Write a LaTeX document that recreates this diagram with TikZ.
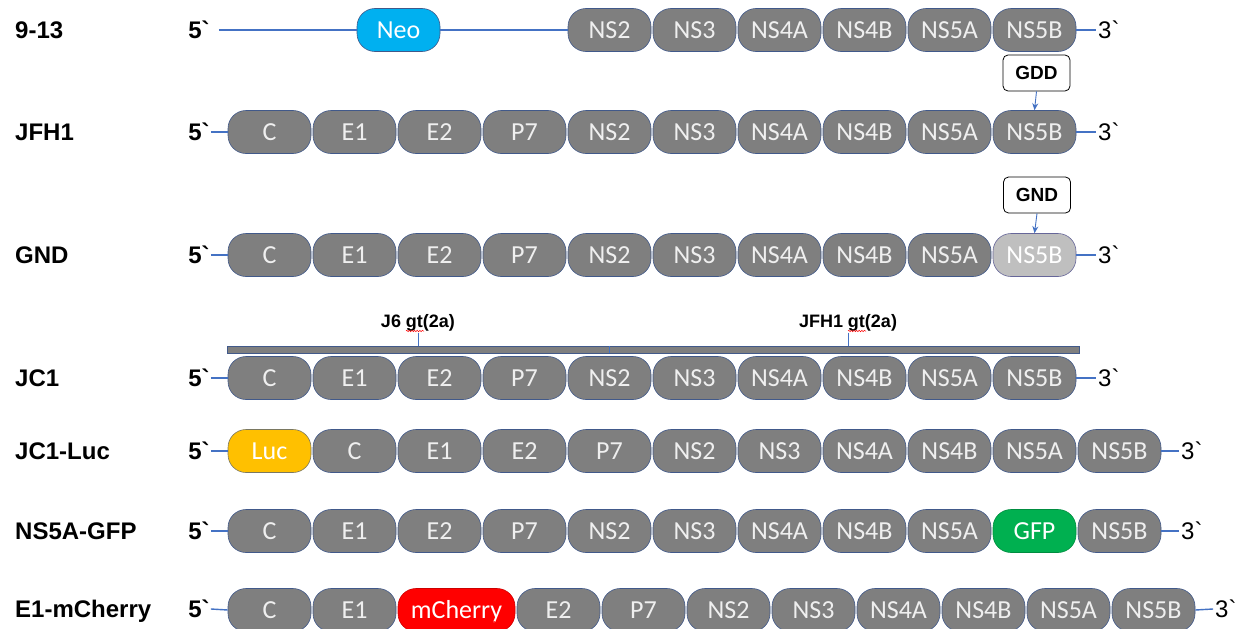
\documentclass[tikz,border=0pt]{standalone}
\usepackage{fontspec}
\usetikzlibrary{arrows.meta,decorations.pathmorphing}
\newfontfamily\boxfont{Carlito}
\newfontfamily\labfont{Liberation Sans}[Ligatures=TeXOff]
\definecolor{boxgray}{HTML}{7F7F7F}
\definecolor{boxline}{HTML}{41598A}
\definecolor{boxtext}{HTML}{EFEFEF}
\definecolor{connblue}{HTML}{4472C4}
\definecolor{neoblue}{HTML}{00B0F0}
\definecolor{lucyellow}{HTML}{FFC000}
\definecolor{gfpgreen}{HTML}{00B050}
\definecolor{cherryred}{HTML}{FF0000}
\definecolor{paleseg}{HTML}{BFBFBF}
\begin{document}
\begin{tikzpicture}[x=1pt,y=-1pt,
  seg/.style={draw=boxline, line width=0.6pt, fill=boxgray, rounded corners=18pt,
    minimum width=83pt, minimum height=43pt, inner sep=0pt,
    font=\boxfont\fontsize{26}{30}\selectfont, text=boxtext, text height=16.7pt, text depth=0pt},
  rowlab/.style={anchor=west, font=\labfont\bfseries\fontsize{24}{28}\selectfont,
    inner sep=0pt, text height=17pt, text depth=0pt},
  five/.style={font=\labfont\bfseries\fontsize{24}{28}\selectfont, inner sep=1pt,
    text height=17pt, text depth=0pt},
  three/.style={anchor=west, font=\labfont\fontsize{24}{28}\selectfont, inner sep=2pt,
    text height=17pt, text depth=0pt},
  conn/.style={draw=connblue, line width=1.4pt},
  mut/.style={draw=black, line width=0.8pt, fill=white, rounded corners=5pt,
    minimum width=67pt, minimum height=36pt, inner sep=0pt,
    font=\labfont\bfseries\fontsize{19}{22}\selectfont, text height=13.6pt, text depth=0pt},
  arr/.style={draw=connblue, line width=0.9pt, -{Stealth[length=7pt,width=6pt]}},
  geno/.style={font=\labfont\bfseries\fontsize{18}{22}\selectfont, inner sep=1pt,
    text height=13pt, text depth=4pt},
  tick/.style={draw=connblue, line width=0.8pt},
  squig/.style={draw=red, line width=0.5pt, decorate,
    decoration={snake, amplitude=0.7pt, segment length=2.6pt}}
]
\fill[white] (0,0) rectangle (1242,629);
\useasboundingbox (0,0) rectangle (1242,629);

% ---------- row labels ----------
\node[rowlab] (alab) at (15,30) {9-13};
\node[rowlab] (blab) at (15,132) {JFH1};
\node[rowlab] (clab) at (15,255) {GND};
\node[rowlab] (dlab) at (15,378) {JC1};
\node[rowlab] (elab) at (15,451) {JC1-Luc};
\node[rowlab] (flab) at (15,531) {NS5A-GFP};
\node[rowlab] (glab) at (15,609) {E1-mCherry};

% ---------- 9-13 ----------
\node[five] (afive) at (199,30) {5`};
\node[seg, fill=neoblue, draw=boxline, text=white] (neo) at (398.5,30) {Neo};
\foreach \t [count=\i from 4] in {NS2,NS3,NS4A,NS4B,NS5A,NS5B}
  \node[seg] (a\i) at (269.5+85*\i,30) {\t};
\node[three] (athree) at (1096,30) {3`};
\draw[conn] ([xshift=8pt]afive.east) -- (neo.west);
\draw[conn] (neo.east) -- (a4.west);
\draw[conn] (a9.east) -- (athree.west);

% ---------- JFH1 ----------
\node[five] (bfive) at (199,132) {5`};
\foreach \t [count=\i from 0] in {C,E1,E2,P7,NS2,NS3,NS4A,NS4B,NS5A,NS5B}
  \node[seg] (b\i) at (269.5+85*\i,132) {\t};
\node[three] (bthree) at (1096,132) {3`};
\draw[conn] (bfive.east) -- (b0.west);
\draw[conn] (b9.east) -- (bthree.west);
\node[mut] (gdd) at (1036.5,73) {GDD};
\draw[arr] (gdd.south) -- (b9.north);

% ---------- GND ----------
\node[five] (cfive) at (199,255) {5`};
\foreach \t [count=\i from 0] in {C,E1,E2,P7,NS2,NS3,NS4A,NS4B,NS5A}
  \node[seg] (c\i) at (269.5+85*\i,255) {\t};
\node[seg, fill=paleseg, draw=gray!80!blue, text=white] (c9) at (1034.5,255) {NS5B};
\node[three] (cthree) at (1096,255) {3`};
\draw[conn] (cfive.east) -- (c0.west);
\draw[conn] (c9.east) -- (cthree.west);
\node[mut] (gnd) at (1037,195) {GND};
\draw[arr] (gnd.south) -- (c9.north);

% ---------- JC1 ----------
\node[five] (dfive) at (199,378) {5`};
\foreach \t [count=\i from 0] in {C,E1,E2,P7,NS2,NS3,NS4A,NS4B,NS5A,NS5B}
  \node[seg] (d\i) at (269.5+85*\i,378) {\t};
\node[three] (dthree) at (1096,378) {3`};
\draw[conn] (dfive.east) -- (d0.west);
\draw[conn] (d9.east) -- (dthree.west);
\node[draw=boxline, line width=0.5pt, fill=boxgray, minimum width=852pt, minimum height=7pt,
  inner sep=0pt] (bar) at (653.5,349.5) {};
\node[geno] (j6) at (418,323) {J6 gt(2a)};
\node[geno] (jf) at (848,323) {JFH1 gt(2a)};
\draw[tick] (j6.south) -- (j6.south |- bar.north);
\draw[tick] (jf.south) -- (jf.south |- bar.north);
\draw[tick] (bar.north -| d4) -- (bar.south -| d4);
\draw[squig] (406,331) -- (424,331);
\draw[squig] (848,331) -- (866,331);

% ---------- JC1-Luc ----------
\node[five] (efive) at (199,451) {5`};
\node[seg, fill=lucyellow, draw=boxline!70!lucyellow, text=white] (e0) at (269.5,451) {Luc};
\foreach \t [count=\i from 1] in {C,E1,E2,P7,NS2,NS3,NS4A,NS4B,NS5A,NS5B}
  \node[seg] (e\i) at (269.5+85*\i,451) {\t};
\node[three] (ethree) at (1179,451) {3`};
\draw[conn] (efive.east) -- (e0.west);
\draw[conn] (e10.east) -- (ethree.west);

% ---------- NS5A-GFP ----------
\node[five] (ffive) at (199,531) {5`};
\foreach \t [count=\i from 0] in {C,E1,E2,P7,NS2,NS3,NS4A,NS4B,NS5A}
  \node[seg] (f\i) at (269.5+85*\i,531) {\t};
\node[seg, fill=gfpgreen, draw=gfpgreen!80!black, text=white] (f9) at (1034.5,531) {GFP};
\node[seg] (f10) at (1119.5,531) {NS5B};
\node[three] (fthree) at (1179,531) {3`};
\draw[conn] (ffive.east) -- (f0.west);
\draw[conn] (f10.east) -- (fthree.west);

% ---------- E1-mCherry ----------
\node[five] (gfive) at (199,609) {5`};
\node[seg] (g0) at (269.5,610) {C};
\node[seg] (g1) at (354.5,610) {E1};
\node[seg, fill=cherryred, draw=cherryred!80!black, text=white, minimum width=117pt] (g2) at (456.5,610) {mCherry};
\foreach \t [count=\i from 3] in {E2,P7,NS2,NS3,NS4A,NS4B,NS5A,NS5B}
  \node[seg] (g\i) at (558.5+85*\i-255,610) {\t};
\node[three] (gthree) at (1213,609) {3`};
\draw[conn] (gfive.east) -- (g0.west);
\draw[conn] (g10.east) -- (gthree.west);
\draw[squig] (410,622) -- (503,622);
\end{tikzpicture}
\end{document}
